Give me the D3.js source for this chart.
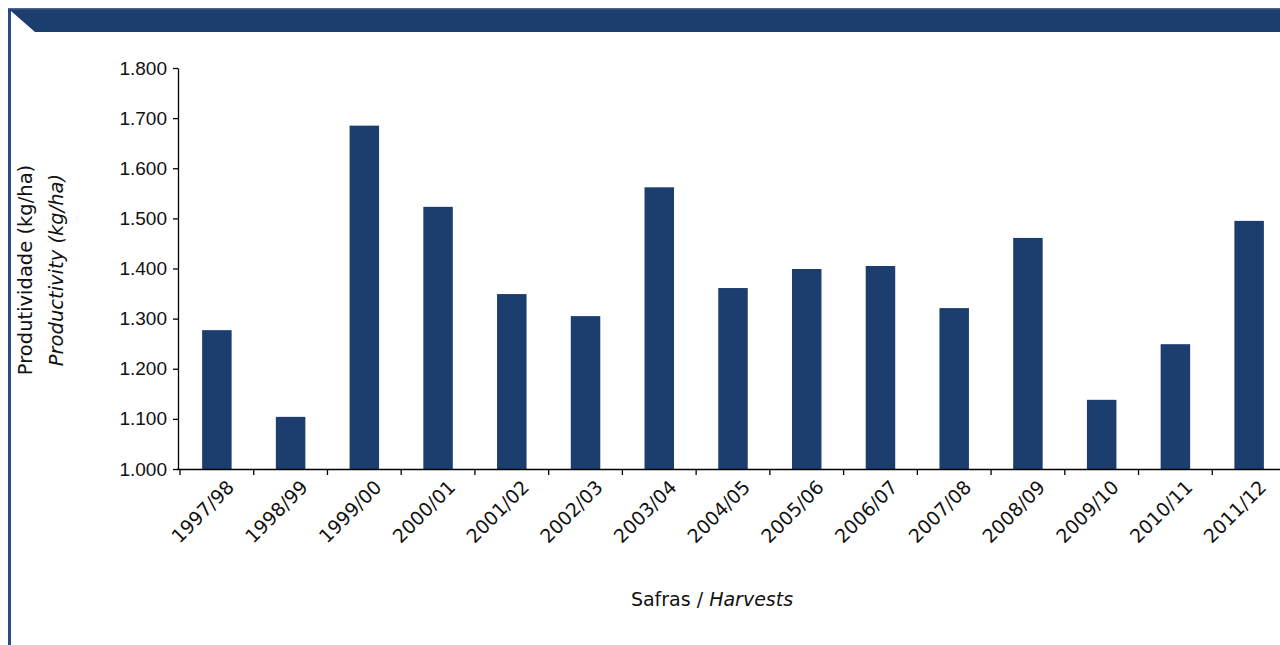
<!DOCTYPE html>
<html>
<head>
<meta charset="utf-8">
<script src="https://cdn.jsdelivr.net/npm/d3@7"></script>
<style>
html,body{margin:0;padding:0;background:#fff;}
svg{display:block;font-family:"DejaVu Sans","Noto Sans",sans-serif;}
</style>
</head>
<body>
<svg id="chart" width="1280" height="645"></svg>
<script>
const categories = ["1997/98","1998/99","1999/00","2000/01","2001/02","2002/03","2003/04","2004/05","2005/06","2006/07","2007/08","2008/09","2009/10","2010/11","2011/12"];
const productivity = [1277,1104,1685,1523,1349,1305,1562,1361,1399,1405,1321,1461,1138,1249,1495];
const yTicks = [1000,1100,1200,1300,1400,1500,1600,1700,1800];
const yTitle1 = "Produtividade (kg/ha)";
const yTitle2 = "Productivity (kg/ha)";
const xTitle1 = "Safras / ";
const xTitle2 = "Harvests";

const svg = d3.select("#chart");
const blue = "#1c3e6f";

// frame / banner
svg.append("rect").attr("x",8).attr("y",8).attr("width",3).attr("height",645).attr("fill","#2a4c80");
svg.append("path").attr("d","M8,8 H1280 V32 H35 L11,11 H8 Z").attr("fill",blue);
svg.append("rect").attr("x",8).attr("y",8).attr("width",1272).attr("height",1.5).attr("fill","#4a6690");

const x = d3.scaleBand().domain(categories).range([180,1286]).paddingInner(0.6).paddingOuter(0.3);
const y = d3.scaleLinear().domain([1000,1800]).range([469,68]);

// bars
svg.append("g").selectAll("rect").data(categories).join("rect")
  .attr("x", d => x(d))
  .attr("width", x.bandwidth())
  .attr("y", (d,i) => y(productivity[i]))
  .attr("height", (d,i) => y(1000) - y(productivity[i]))
  .attr("fill", blue);

// y axis
const yAxis = svg.append("g").attr("transform","translate(178,0)")
  .call(d3.axisLeft(y).tickValues(yTicks).tickSize(5).tickSizeOuter(0)
    .tickFormat(d => d3.format(".3f")(d/1000)));
yAxis.select(".domain").attr("stroke","#000").attr("stroke-width",1.3);
yAxis.selectAll(".tick line").attr("stroke","#000").attr("stroke-width",1.3);
yAxis.selectAll("text").attr("font-size",19).attr("fill","#111").attr("x",-11);

// x axis line and boundary ticks
svg.append("line").attr("x1",177).attr("x2",1280).attr("y1",469.5).attr("y2",469.5).attr("stroke","#000").attr("stroke-width",1.3);
const step = x.step();
const bounds = d3.range(categories.length + 1).map(i => x.range()[0] + i*step);
svg.append("g").selectAll("line").data(bounds).join("line")
  .attr("x1", d => d).attr("x2", d => d)
  .attr("y1",469.5).attr("y2",475)
  .attr("stroke","#000").attr("stroke-width",1.3);

// x labels
svg.append("g").selectAll("text").data(categories).join("text")
  .attr("transform", d => `translate(${x(d)+x.bandwidth()/2+9},${479}) rotate(-45)`)
  .attr("text-anchor","end")
  .attr("dy","0.7em")
  .attr("font-size",19)
  .attr("fill","#111")
  .text(d => d);

// titles
const yTitleG = svg.append("g").attr("transform","translate(0,270)");
yTitleG.append("text").attr("transform","translate(32,0) rotate(-90)").attr("text-anchor","middle")
  .attr("font-size",19.5).attr("fill","#111").text(yTitle1);
yTitleG.append("text").attr("transform","translate(63,0) rotate(-90)").attr("text-anchor","middle")
  .attr("font-size",19.5).attr("font-style","italic").attr("fill","#111").text(yTitle2);

const xt = svg.append("text").attr("x",712).attr("y",606).attr("text-anchor","middle")
  .attr("font-size",19).attr("fill","#111");
xt.append("tspan").text(xTitle1);
xt.append("tspan").attr("font-style","italic").text(xTitle2);
</script>
</body>
</html>
